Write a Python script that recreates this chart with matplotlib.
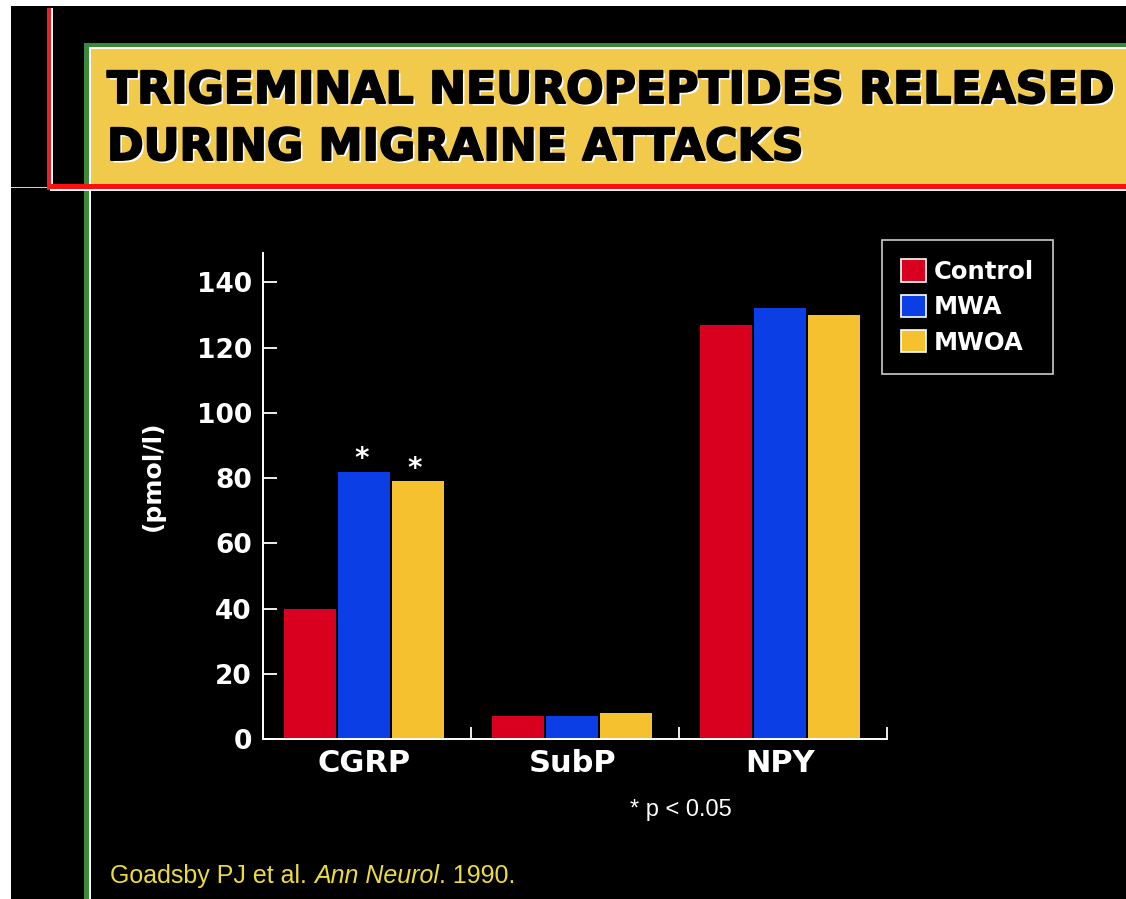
import matplotlib
matplotlib.use('Agg')
import matplotlib.pyplot as plt
import matplotlib.patheffects as pe
from matplotlib.patches import Rectangle, Patch
import numpy as np

W, H = 1126, 899  # slide size in pixels

title_lines = ['TRIGEMINAL NEUROPEPTIDES RELEASED', 'DURING MIGRAINE ATTACKS']
peptides = ['CGRP', 'SubP', 'NPY']
groups = ['Control', 'MWA', 'MWOA']
control = [40, 7, 127]   # pmol/l
mwa = [82, 7, 132]
mwoa = [79, 8, 130]
starred_mwa = [True, False, False]   # p < 0.05
starred_mwoa = [True, False, False]
yticks = [0, 20, 40, 60, 80, 100, 120, 140]

colors = ['#d8001e', '#0c3ee6', '#f6c12e']
yellow_bg = '#f1c94b'
cite_col = '#ecdc3a'
bold = dict(family='DejaVu Sans', weight='bold')

fig = plt.figure(figsize=(W / 100, H / 100), dpi=100, facecolor='white')

def rect(x0, y0, x1, y1, color):
	# box in slide pixels, measured from the top left corner
	fig.add_artist(Rectangle((x0 / W, 1 - y1 / H), (x1 - x0) / W, (y1 - y0) / H,
		transform=fig.transFigure, facecolor=color, edgecolor='none', zorder=0))

# slide decoration
rect(11, 6, W, H, 'black')
rect(84, 43, 89, H, '#3a8a3a')      # green frame, left
rect(89, 47, 91, H, 'white')
rect(84, 43, W, 47, '#3a8a3a')      # green frame, top
rect(89, 47, W, 49, 'white')
rect(91, 49, W, 185, yellow_bg)
rect(11, 187, 50, 188, '#f0c0c0')
rect(47, 8, 51, 190, '#e8202a')     # red vertical rule
rect(51, 8, 53, 186, 'white')
rect(50, 184, W, 189, '#ff1010')    # red horizontal rule
rect(50, 189, W, 191, 'white')

# heavy black title with a white drop shadow
title_fx = [pe.SimplePatchShadow(offset=(1.8, -1.8), shadow_rgbFace='white', alpha=1.0),
	pe.Stroke(linewidth=1.4, foreground='black'), pe.Normal()]
for i, line in enumerate(title_lines):
	fig.text(107 / W, 1 - (103 + 57 * i) / H, line, fontsize=31.8, color='black',
		va='baseline', ha='left', path_effects=title_fx, **bold)

# chart
ax = fig.add_axes([263 / W, 1 - 739 / H, 624 / W, 486 / H])
ax.set_facecolor('none')
x = np.arange(len(peptides)) + 0.486
width = 0.258
for i, (vals, c) in enumerate(zip([control, mwa, mwoa], colors)):
	ax.bar(x + (i - 1) * width, vals, width * 0.97, color=c, edgecolor='none', zorder=2)

for off, vals, stars in [(0, mwa, starred_mwa), (1, mwoa, starred_mwoa)]:
	for xi, v, s in zip(x, vals, stars):
		if s:
			ax.annotate('*', (xi + off * width, v), xytext=(-2, -1), textcoords='offset points',
				ha='center', va='bottom', color='white', fontsize=20, **bold)

ax.set_xlim(0, 3)
ax.set_ylim(0, 149)
for s in ['top', 'right']:
	ax.spines[s].set_visible(False)
for s in ['left', 'bottom']:
	ax.spines[s].set_color('white')
	ax.spines[s].set_linewidth(1.4)

ax.set_yticks(yticks)
ax.set_yticklabels([str(t) for t in yticks], fontsize=19, color='white', **bold)
ax.tick_params(axis='y', direction='in', length=10, width=1.3, color='white', pad=8)
ax.set_xticks([1, 2, 3])
ax.set_xticklabels([])
ax.tick_params(axis='x', which='major', direction='in', length=9, width=1.3, color='white')
ax.set_xticks(x, minor=True)
ax.set_xticklabels(peptides, minor=True, fontsize=22, color='white', **bold)
ax.tick_params(axis='x', which='minor', length=0, pad=7)

ax.set_ylabel('(pmol/l)', fontsize=18, color='white', **bold)
ax.yaxis.set_label_coords(-0.157, 0.541)

handles = [Patch(facecolor=c, edgecolor='white', linewidth=1.2) for c in colors]
leg = ax.legend(handles, groups, loc='upper left', bbox_to_anchor=(882 / W, 1 - 240 / H),
	bbox_transform=fig.transFigure, frameon=True, fancybox=False, facecolor='black',
	edgecolor='white', labelcolor='white', prop=dict(size=17.5, **bold),
	handlelength=1.03, handleheight=1.03, handletextpad=0.3, labelspacing=0.45,
	borderpad=0.8, borderaxespad=0)
leg.get_frame().set_linewidth(1.2)

fig.text(630 / W, 1 - 816 / H, '* p < 0.05', fontsize=17, color='white', va='baseline',
	ha='left', family=['Liberation Sans Narrow', 'Liberation Sans'])

# reference line, journal in italics
t1 = fig.text(110 / W, 1 - 883 / H, 'Goadsby PJ et al. ', fontsize=18, color=cite_col,
	family='Liberation Sans', va='baseline', ha='left')
t2 = ax.annotate('Ann Neurol', xy=(1, 0), xycoords=t1, va='bottom', ha='left', fontsize=18,
	color=cite_col, family='Liberation Sans', style='italic', annotation_clip=False)
ax.annotate('. 1990.', xy=(1, 0), xycoords=t2, va='bottom', ha='left', fontsize=18,
	color=cite_col, family='Liberation Sans', annotation_clip=False)

fig.savefig('out.png', dpi=100, facecolor=fig.get_facecolor())
